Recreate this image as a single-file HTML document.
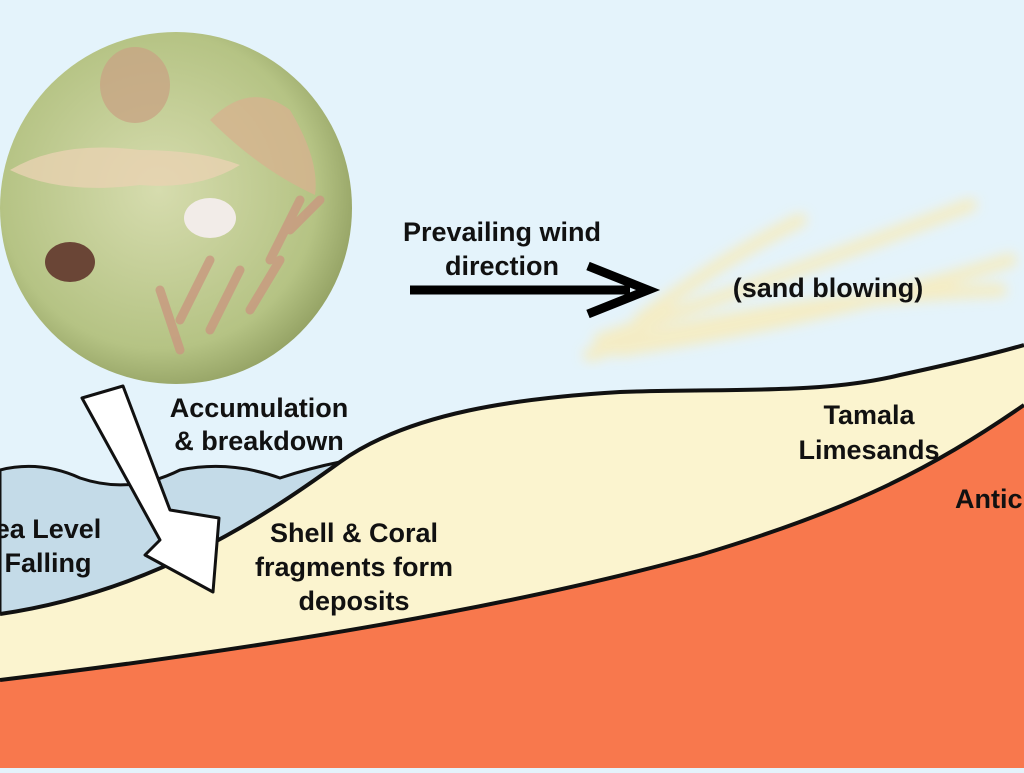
<!DOCTYPE html>
<html><head><style>body{margin:0;width:1024px;height:768px;overflow:hidden;background:#e4f3fb}</style></head><body>
<svg width="1024" height="768" xmlns="http://www.w3.org/2000/svg">
<defs>
<radialGradient id="g" cx="0.45" cy="0.45" r="0.6"><stop offset="0" stop-color="#d6dcae"/><stop offset="0.75" stop-color="#b5c384"/><stop offset="1" stop-color="#8e9c5e"/></radialGradient>
<filter id="b"><feGaussianBlur stdDeviation="6"/></filter>
</defs>
<rect width="1024" height="768" fill="#e4f3fb"/>
<g filter="url(#b)" stroke="#f6ecc0" stroke-width="14" fill="none" stroke-linecap="round" opacity="0.9">
<path d="M590 355 Q760 300 1000 290"/><path d="M600 340 Q800 270 970 205"/><path d="M640 320 Q720 260 800 220"/><path d="M620 350 Q820 320 1010 260"/>
</g>
<path d="M0 470 Q40 460 80 478 Q130 495 180 470 Q230 460 280 478 Q310 468 340 462 L340 600 L0 640 Z" fill="#c4dbe8" stroke="#111" stroke-width="3"/>
<path d="M0 680 C250 650 500 610 700 555 C850 510 930 470 1024 405 L1024 768 L0 768 Z" fill="#f8784d"/>
<path d="M0 614 C150 592 260 520 340 462 C410 412 520 398 620 392 C720 388 820 395 900 375 C960 362 1000 352 1024 345 L1024 405 C930 470 850 510 700 555 C500 610 250 650 0 680 Z" fill="#fbf4cf"/>
<path d="M0 614 C150 592 260 520 340 462 C410 412 520 398 620 392 C720 388 820 395 900 375 C960 362 1000 352 1024 345" fill="none" stroke="#111" stroke-width="4"/>
<path d="M0 680 C250 650 500 610 700 555 C850 510 930 470 1024 405" fill="none" stroke="#111" stroke-width="4"/>
<circle cx="176" cy="208" r="176" fill="url(#g)"/>
<ellipse cx="135" cy="85" rx="35" ry="38" fill="#c8a585" opacity="0.8"/>
<path d="M210 120 Q250 80 290 110 Q320 160 315 195 Q260 170 210 120Z" fill="#d6b38e" opacity="0.8"/>
<path d="M10 170 Q60 140 140 150 Q200 150 240 165 Q200 190 140 185 Q60 195 10 170Z" fill="#e8d2b2" opacity="0.8"/>
<ellipse cx="210" cy="218" rx="26" ry="20" fill="#f2ece8"/>
<ellipse cx="70" cy="262" rx="25" ry="20" fill="#6a4536"/>
<g stroke="#c89a80" stroke-width="9" fill="none" stroke-linecap="round" opacity="0.85"><path d="M180 350 L160 290 M180 320 L210 260 M210 330 L240 270 M250 310 L280 260 M270 260 L300 200 M290 230 L320 200"/></g>
<path d="M82 398 L123 386 L170 510 L219 518 L213 592 L145 555 L160 540 Z" fill="#fff" stroke="#111" stroke-width="3" stroke-linejoin="round"/>
<path d="M410 290 L630 290" stroke="#000" stroke-width="9"/>
<path d="M588 266 L648 290 L588 314" fill="none" stroke="#000" stroke-width="9" stroke-linejoin="miter"/>
<g font-family="Liberation Sans, sans-serif" font-weight="bold" font-size="27" fill="#111" text-anchor="middle">
<text x="502" y="241">Prevailing wind</text><text x="502" y="275">direction</text>
<text x="828" y="297">(sand blowing)</text>
<text x="259" y="417">Accumulation</text><text x="259" y="450">&amp; breakdown</text>
<text x="869" y="424">Tamala</text><text x="869" y="459">Limesands</text>
<text x="354" y="542">Shell &amp; Coral</text><text x="354" y="576">fragments form</text><text x="354" y="610">deposits</text>
<text x="48" y="538">ea Level</text><text x="48" y="572">Falling</text>
<text x="955" y="508" text-anchor="start">Antic</text>
</g>
</svg>
</body></html>
